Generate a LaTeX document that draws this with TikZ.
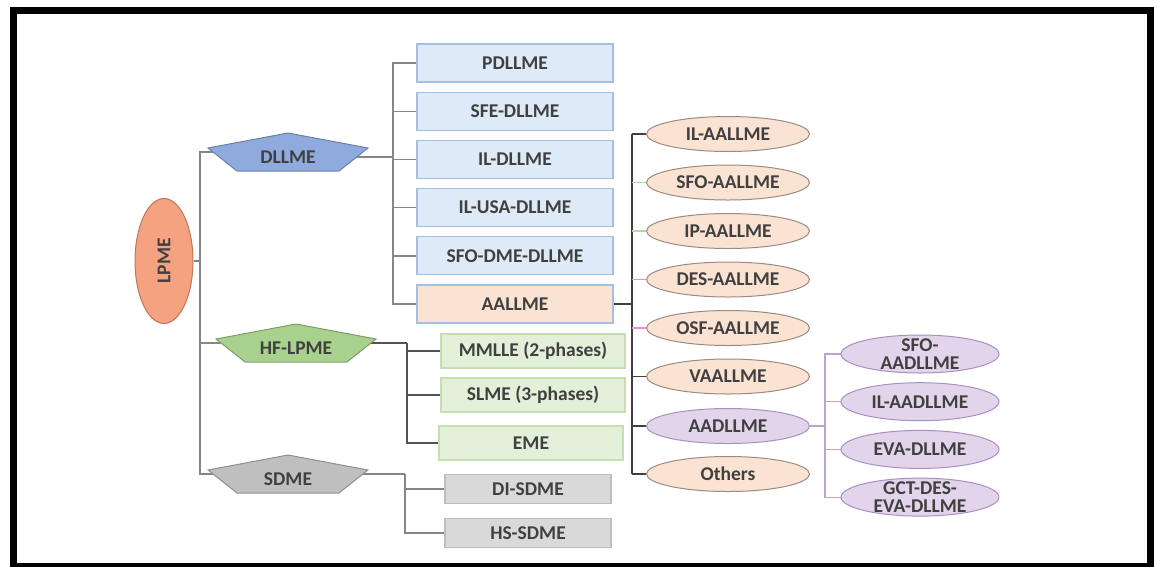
\documentclass[tikz,border=0pt]{standalone}
\usepackage{fontspec}
\setmainfont{Carlito}
\usetikzlibrary{shapes.geometric,backgrounds}

\definecolor{txtgray}{HTML}{404040}
\definecolor{lpmefill}{HTML}{F4A280}
\definecolor{lpmeline}{HTML}{B9785C}
\definecolor{dllmecol}{HTML}{8FAADC}
\definecolor{hfcol}{HTML}{A9D18E}
\definecolor{sdmecol}{HTML}{BFBFBF}
\definecolor{boxblue}{HTML}{DEEAF7}
\definecolor{boxblueline}{HTML}{A3BFE3}
\definecolor{peach}{HTML}{FBE3D3}
\definecolor{peachline}{HTML}{9C8B80}
\definecolor{boxgreen}{HTML}{E2F0D9}
\definecolor{boxgreenline}{HTML}{C5DFB3}
\definecolor{boxgray}{HTML}{D9D9D9}
\definecolor{boxgrayline}{HTML}{BDBDBD}
\definecolor{lilac}{HTML}{E2D4EA}
\definecolor{lilacline}{HTML}{A98FC2}

\begin{document}
\begin{tikzpicture}[x=1pt,y=-1pt]
  \tikzset{
    every node/.style={font=\fontsize{19.5}{17.5}\selectfont\bfseries, text=txtgray, align=center, inner sep=0pt},
    lpmenode/.style={ellipse, rotate=90, fill=lpmefill, draw=lpmeline, line width=1pt, minimum width=125pt, minimum height=58pt},
    pentanode/.style={minimum width=160pt, minimum height=38pt},
    bluebox/.style={fill=boxblue, draw=boxblueline, line width=1.2pt, minimum width=196pt, minimum height=38pt},
    peachbox/.style={bluebox, fill=peach},
    greenbox/.style={fill=boxgreen, draw=boxgreenline, line width=1.2pt, minimum width=184pt, minimum height=34pt},
    graybox/.style={fill=boxgray, draw=boxgrayline, line width=1.2pt, minimum width=166pt, minimum height=29pt},
    peachell/.style={ellipse, fill=peach, draw=peachline, line width=1pt, minimum width=163pt, minimum height=35pt},
    lilacell/.style={peachell, fill=lilac, draw=lilacline},
    lilacsmall/.style={lilacell, minimum width=158pt, minimum height=38pt, inner ysep=-7pt},
    tie/.style={draw=gray!95, line width=1.4pt},
    tiemid/.style={draw=txtgray!90, line width=1.4pt},
    tiedark/.style={draw=txtgray, line width=1.6pt},
    tiegreen/.style={draw=hfcol!85, line width=1.2pt},
    tiepink/.style={draw=magenta!45, line width=1.2pt},
    tielilac/.style={draw=lilacline!80, line width=1.2pt},
  }
  \useasboundingbox (0,0) rectangle (1154,566);
  \draw[line width=7pt] (13.5,10.5) rectangle (1150.5,566.5);

  % root and the three families
  \node[lpmenode] (lpme) at (164,261) {LPME};
  \node[pentanode] (dllme) at (288,157) {DLLME};
  \node[pentanode] (hflpme) at (296,348) {HF-LPME};
  \node[pentanode] (sdme) at (288,479) {SDME};

  % DLLME variants
  \foreach \t [count=\i] in {PDLLME, SFE-DLLME, IL-DLLME, IL-USA-DLLME, SFO-DME-DLLME}
    \node[bluebox] (d\i) at (515,{63+48.2*(\i-1)}) {\t};
  \node[peachbox] (aallme) at (515,304) {AALLME};

  % HF-LPME and SDME variants
  \node[greenbox] (mmlle) at (533,351) {MMLLE (2-phases)};
  \node[greenbox] (slme) at (533,395) {SLME (3-phases)};
  \node[greenbox] (eme) at (531,443) {EME};
  \node[graybox] (disdme) at (528,489) {DI-SDME};
  \node[graybox] (hssdme) at (528,533) {HS-SDME};

  % AALLME variants
  \foreach \t [count=\i] in {IL-AALLME, SFO-AALLME, IP-AALLME, DES-AALLME, OSF-AALLME, VAALLME}
    \node[peachell] (a\i) at (728,{134+48.5*(\i-1)}) {\t};
  \node[lilacell] (aadllme) at (728,426) {AADLLME};
  \node[peachell] (others) at (728,474) {Others};

  % AADLLME variants
  \foreach \t [count=\i] in {{SFO-\\AADLLME}, IL-AADLLME, EVA-DLLME, {GCT-DES-\\EVA-DLLME}}
    \node[lilacsmall] (v\i) at (920,{354+47.7*(\i-1)}) {\t};

  \begin{scope}[on background layer]
    \coordinate (lbar) at (200,261);
    \draw[tie] (lpme.south) -- (lbar);
    \foreach \n in {dllme, hflpme, sdme}
      \draw[tie] (lbar) |- ([yshift=5pt]\n.center);

    \coordinate (dbar) at (393,157);
    \draw[tie] (dllme.center) -- (dbar);
    \foreach \i in {1,...,5}
      \draw[tie] (dbar) |- (d\i.west);
    \draw[tie] (dbar) |- (aallme.west);

    \coordinate (abar) at (632,304);
    \draw[tiedark] (aallme.east) -- (abar);
    \draw[tiedark] (a1.west -| abar) -- (others.west -| abar);
    \foreach \i/\k in {1/tiedark, 2/tiegreen, 3/tiegreen, 4/tiepink, 5/tiepink, 6/tiedark}
      \draw[\k] (a\i.west -| abar) -- (a\i.west);
    \draw[tiedark] (aadllme.west -| abar) -- (aadllme.west);
    \draw[tiedark] (others.west -| abar) -- (others.west);

    \coordinate (hbar) at (407,343);
    \draw[tiemid] ([yshift=5pt]hflpme.center) -- (hbar);
    \foreach \n in {mmlle, slme, eme}
      \draw[tiemid] (hbar) |- (\n.west);

    \coordinate (sbar) at (405,474);
    \draw[tie] ([yshift=5pt]sdme.center) -- (sbar);
    \foreach \n in {disdme, hssdme}
      \draw[tie] (sbar) |- (\n.west);

    \coordinate (vbar) at (825,426);
    \draw[tielilac] (aadllme.east) -- (vbar);
    \foreach \i in {1,...,4}
      \draw[tielilac] (vbar) |- (v\i.west);

    % pentagons, laid over the ends of their ties
    \foreach \n/\c in {dllme/dllmecol, hflpme/hfcol, sdme/sdmecol}
      \filldraw[fill=\c, draw=\c!75!black, line width=1pt]
        ([shift={(0,-24)}]\n.center) -- ([shift={(80,-9)}]\n.center)
        -- ([shift={(51,14)}]\n.center) -- ([shift={(-51,14)}]\n.center)
        -- ([shift={(-80,-9)}]\n.center) -- cycle;
  \end{scope}
\end{tikzpicture}
\end{document}
